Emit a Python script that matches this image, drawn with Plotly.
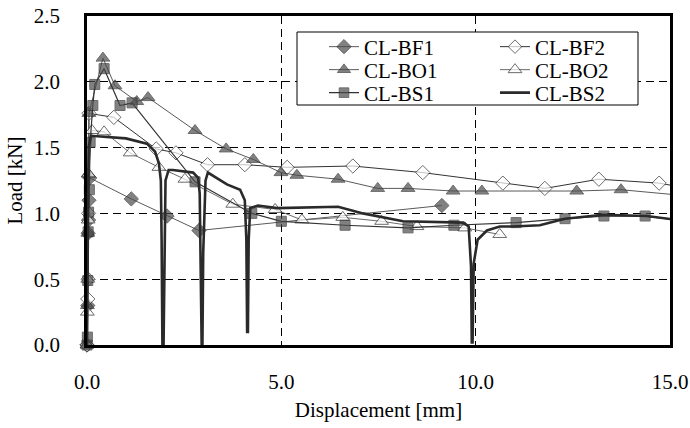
import plotly.graph_objects as go

# ---------------- data ----------------
bf1_x = [0.0, 0.02, 0.03, 0.04, 0.05, 0.07, 1.14, 2.06, 2.88, 9.13]
bf1_y = [0.0, 0.30, 0.85, 0.95, 1.10, 1.27, 1.11, 0.98, 0.87, 1.06]

bf2_x = [0.0, 0.02, 0.03, 0.04, 0.05, 0.69, 1.78, 2.29, 3.10, 4.06, 5.15, 6.84, 8.64, 10.70, 11.78, 13.17, 14.72, 15.10]
bf2_y = [0.0, 0.35, 0.50, 1.00, 1.76, 1.73, 1.49, 1.46, 1.37, 1.37, 1.35, 1.36, 1.31, 1.23, 1.19, 1.26, 1.23, 1.21]

bo1_x = [0.0, 0.01, 0.02, 0.03, 0.05, 0.41, 0.72, 1.28, 1.57, 2.78, 3.58, 4.28, 4.99, 5.40, 6.46, 7.48, 8.26, 9.42, 10.16, 12.60, 13.74, 15.20]
bo1_y = [0.0, 0.30, 0.85, 1.30, 1.76, 2.18, 1.97, 1.85, 1.88, 1.63, 1.49, 1.41, 1.31, 1.29, 1.26, 1.19, 1.19, 1.17, 1.17, 1.17, 1.18, 1.14]

bo2_x = [0.0, 0.01, 0.02, 0.03, 0.04, 0.13, 0.44, 1.11, 1.85, 2.52, 3.75, 4.84, 5.53, 6.58, 7.58, 8.49, 9.72, 10.62]
bo2_y = [0.0, 0.25, 0.50, 0.95, 1.30, 1.63, 1.62, 1.46, 1.35, 1.26, 1.07, 1.03, 0.95, 0.97, 0.94, 0.90, 0.89, 0.84]

bs1_x = [0.0, 0.01, 0.02, 0.03, 0.04, 0.06, 0.08, 0.15, 0.20, 0.44, 0.85, 1.16, 2.78, 4.24, 5.00, 6.64, 8.26, 9.44, 11.04, 12.30, 13.30, 14.36, 15.20]
bs1_y = [0.0, 0.06, 0.49, 0.86, 1.01, 1.18, 1.54, 1.82, 1.98, 2.10, 1.82, 1.84, 1.24, 1.00, 0.94, 0.91, 0.89, 0.91, 0.93, 0.96, 0.98, 0.98, 0.95]

bs2_x = [0.0, 0.02, 0.04, 0.10, 0.50, 1.00, 1.54, 1.75, 1.85, 1.90, 1.92, 1.94, 1.97, 1.99, 2.02, 2.10, 2.21, 2.73, 2.86, 2.90, 2.92, 2.95, 2.97, 2.99, 3.05, 3.11,
         3.60, 3.94, 4.06, 4.10, 4.12, 4.14, 4.16, 4.20, 4.40, 4.89, 6.46, 7.10, 8.13, 9.26, 9.68, 9.82, 9.88, 9.90, 9.92, 9.95, 10.05, 10.29, 10.62, 10.96,
         11.65, 12.30, 13.28, 14.40, 15.20]
bs2_y = [0.0, 0.80, 1.50, 1.59, 1.58, 1.57, 1.53, 1.47, 1.38, 1.25, 0.80, 0.00, 0.00, 0.80, 1.25, 1.33, 1.33, 1.31, 1.27, 1.15, 0.60, 0.00, 0.00, 0.70, 1.25, 1.31,
         1.22, 1.18, 1.10, 0.80, 0.10, 0.10, 0.80, 1.04, 1.06, 1.04, 1.05, 1.00, 0.94, 0.93, 0.93, 0.90, 0.60, 0.02, 0.02, 0.62, 0.80, 0.87, 0.90, 0.90,
         0.91, 0.96, 0.99, 0.98, 0.95]

x_ticks = [0, 5, 10, 15]
x_tick_labels = ["0.0", "5.0", "10.0", "15.0"]
y_ticks = [0.0, 0.5, 1.0, 1.5, 2.0, 2.5]
y_tick_labels = ["0.0", "0.5", "1.0", "1.5", "2.0", "2.5"]

FONT = "Liberation Serif"
FILL = "#4d4d4d"
EDGE = "#2e2e2e"

# plot area geometry (px) used to place legend entries
PL, PR, PT, PB = 87, 670, 16, 345


def px_x(p):
    return (p - PL) / (PR - PL)


def px_y(p):
    return (PB - p) / (PB - PT)


def sizes(xs, s, hide_last=False):
    out = [s] * len(xs)
    if hide_last:
        out[-1] = 0
    return out


fig = go.Figure()

fig.add_trace(go.Scatter(
    x=bf1_x, y=bf1_y, name="CL-BF1", mode="lines+markers", legend="legend",
    line=dict(color="#5a5a5a", width=1),
    marker=dict(symbol="diamond", size=sizes(bf1_x, 11), color=FILL, line=dict(color=EDGE, width=1)),
    cliponaxis=False))
fig.add_trace(go.Scatter(
    x=bf2_x, y=bf2_y, name="CL-BF2", mode="lines+markers", legend="legend2",
    line=dict(color="#333333", width=1),
    marker=dict(symbol="diamond", size=sizes(bf2_x, 11, True), color="white", line=dict(color=EDGE, width=1)),
    cliponaxis=False))
fig.add_trace(go.Scatter(
    x=bo1_x, y=bo1_y, name="CL-BO1", mode="lines+markers", legend="legend3",
    line=dict(color="#5a5a5a", width=1),
    marker=dict(symbol="triangle-up", size=sizes(bo1_x, 12, True), color=FILL, line=dict(color=EDGE, width=1)),
    cliponaxis=False))
fig.add_trace(go.Scatter(
    x=bo2_x, y=bo2_y, name="CL-BO2", mode="lines+markers", legend="legend4",
    line=dict(color="#6a6a6a", width=1),
    marker=dict(symbol="triangle-up", size=sizes(bo2_x, 12), color="white", line=dict(color=EDGE, width=1)),
    cliponaxis=False))
fig.add_trace(go.Scatter(
    x=bs1_x, y=bs1_y, name="CL-BS1", mode="lines+markers", legend="legend5",
    line=dict(color="#333333", width=1.2),
    marker=dict(symbol="square", size=sizes(bs1_x, 10, True), color=FILL, line=dict(color=EDGE, width=1)),
    cliponaxis=False))
fig.add_trace(go.Scatter(
    x=bs2_x, y=bs2_y, name="CL-BS2", mode="lines", legend="legend6",
    line=dict(color="#2a2a2a", width=2.6),
    cliponaxis=False))

# legend frame (white box hiding gridlines)
fig.add_shape(type="rect", xref="paper", yref="paper",
              x0=px_x(297), x1=px_x(638), y0=px_y(105), y1=px_y(32),
              line=dict(color="black", width=1), fillcolor="white", layer="above")

axis_common = dict(
    showline=True, linecolor="black", linewidth=2.5, mirror=True,
    showgrid=True, gridcolor="black", gridwidth=1, griddash="8px,5px",
    zeroline=False, ticks="", automargin=True,
    tickfont=dict(family=FONT, size=21, color="black"),
)


def leg(xp, yp):
    return dict(x=px_x(xp), y=px_y(yp), xanchor="left", yanchor="middle",
                bgcolor="rgba(0,0,0,0)", borderwidth=0,
                font=dict(family=FONT, size=21, color="black"))


fig.update_layout(
    width=690, height=428,
    margin=dict(l=PL, r=690 - PR, t=PT, b=428 - PB, autoexpand=False),
    paper_bgcolor="white", plot_bgcolor="white",
    font=dict(family=FONT, size=21, color="black"),
    xaxis=dict(range=[0, 15], tickvals=x_ticks, ticktext=x_tick_labels, ticklabelstandoff=16,
               title=dict(text="Displacement [mm]", font=dict(family=FONT, size=21, color="black"), standoff=10),
               **axis_common),
    yaxis=dict(range=[0, 2.5], tickvals=y_ticks, ticktext=y_tick_labels, ticklabelstandoff=20,
               title=dict(text="Load [kN]", font=dict(family=FONT, size=21, color="black"), standoff=6),
               **axis_common),
    legend=leg(324, 47),
    legend2=leg(495, 47),
    legend3=leg(324, 70),
    legend4=leg(495, 70),
    legend5=leg(324, 93),
    legend6=leg(495, 93),
    showlegend=True,
)

fig.write_html("out.html")
